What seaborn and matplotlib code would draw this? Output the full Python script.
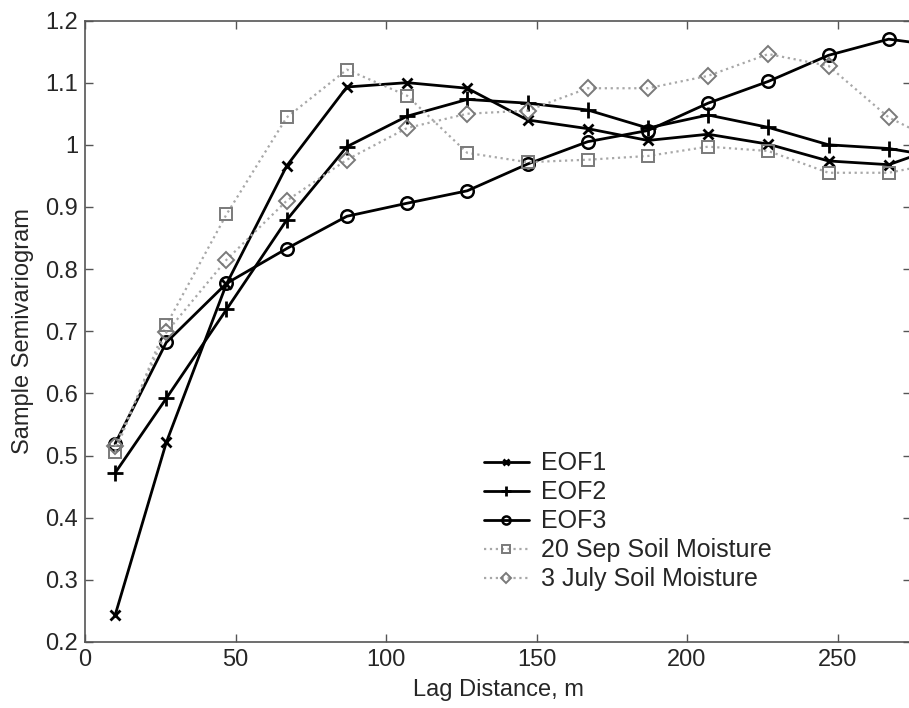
import matplotlib
matplotlib.use("Agg")
import matplotlib.pyplot as plt
import seaborn as sns
import pandas as pd

lag = [10, 27, 47, 67, 87, 107, 127, 147, 167, 187, 207, 227, 247, 267, 287]
eof1 = [0.243, 0.521, 0.776, 0.966, 1.093, 1.100, 1.091, 1.040, 1.026, 1.007, 1.017, 1.001, 0.974, 0.968, 1.002]
eof2 = [0.472, 0.592, 0.735, 0.879, 0.997, 1.046, 1.073, 1.067, 1.056, 1.027, 1.048, 1.028, 1.000, 0.994, 0.978]
eof3 = [0.519, 0.682, 0.777, 0.833, 0.885, 0.906, 0.926, 0.969, 1.005, 1.023, 1.067, 1.102, 1.144, 1.170, 1.157]
sep20 = [0.506, 0.710, 0.888, 1.044, 1.121, 1.079, 0.987, 0.972, 0.976, 0.982, 0.997, 0.990, 0.955, 0.955, 0.974]
jul3 = [0.515, 0.698, 0.815, 0.910, 0.976, 1.027, 1.050, 1.055, 1.091, 1.091, 1.111, 1.146, 1.127, 1.044, 0.996]

series_names = ["EOF1", "EOF2", "EOF3", "20 Sep Soil Moisture", "3 July Soil Moisture"]
series_values = [eof1, eof2, eof3, sep20, jul3]

y_ticks = [0.2, 0.3, 0.4, 0.5, 0.6, 0.7, 0.8, 0.9, 1.0, 1.1, 1.2]
y_tick_labels = ["0.2", "0.3", "0.4", "0.5", "0.6", "0.7", "0.8", "0.9", "1", "1.1", "1.2"]
x_ticks = [0, 50, 100, 150, 200, 250]
x_tick_labels = ["0", "50", "100", "150", "200", "250"]

sns.set_style("white")
plt.rcParams["font.family"] = ["Liberation Sans", "DejaVu Sans"]

fig = plt.figure(figsize=(9.09, 7.08), dpi=100)
ax = fig.add_axes([85 / 909, (708 - 642) / 708, (911 - 85) / 909, (642 - 20.5) / 708])

styles = {
    "EOF1": dict(color="black", marker="x", linestyle="-", lw=2.0, ms=7, mew=2.0, mfc="black"),
    "EOF2": dict(color="black", marker="+", linestyle="-", lw=2.0, ms=11, mew=2.0, mfc="black"),
    "EOF3": dict(color="black", marker="o", linestyle="-", lw=2.0, ms=9, mew=1.8, mfc="none"),
    "20 Sep Soil Moisture": dict(color="#a8a8a8", marker="s", linestyle=":", lw=1.6, ms=9, mew=1.4,
                                 mfc="none", mec="#7a7a7a"),
    "3 July Soil Moisture": dict(color="#a8a8a8", marker="D", linestyle=":", lw=1.6, ms=9, mew=1.4,
                                 mfc="none", mec="#7a7a7a"),
}

for name, vals in zip(series_names, series_values):
    df = pd.DataFrame({"lag": lag, "val": vals})
    st = styles[name]
    ms = st["ms"]
    if st["marker"] == "D":
        ms = st["ms"] * 0.85
    sns.lineplot(data=df, x="lag", y="val", ax=ax, label=name, color=st["color"],
                 linestyle=st["linestyle"], linewidth=st["lw"], marker=st["marker"],
                 markersize=ms, markeredgewidth=st["mew"], markerfacecolor=st["mfc"],
                 markeredgecolor=st.get("mec", st["color"]), sort=False)

ax.set_xlim(0, 274.4)
ax.set_ylim(0.2, 1.2)
ax.set_xticks(x_ticks)
ax.set_xticklabels(x_tick_labels)
ax.set_yticks(y_ticks)
ax.set_yticklabels(y_tick_labels)
ax.tick_params(direction="in", length=6, width=1, color="#555555", labelsize=17,
               top=True, right=True, bottom=True, left=True, pad=5)
for s in ax.spines.values():
    s.set_color("#555555")
    s.set_linewidth(1.2)
ax.set_xlabel("Lag Distance, m", fontsize=17, labelpad=6)
ax.set_ylabel("Sample Semivariogram", fontsize=17, labelpad=8)

leg = ax.legend(loc="upper left", bbox_to_anchor=(0.4705, 0.323), frameon=False,
                fontsize=18, handlelength=1.8, handletextpad=0.5, labelspacing=0.2,
                borderaxespad=0, markerscale=0.65)

fig.savefig("out.png", dpi=100)
